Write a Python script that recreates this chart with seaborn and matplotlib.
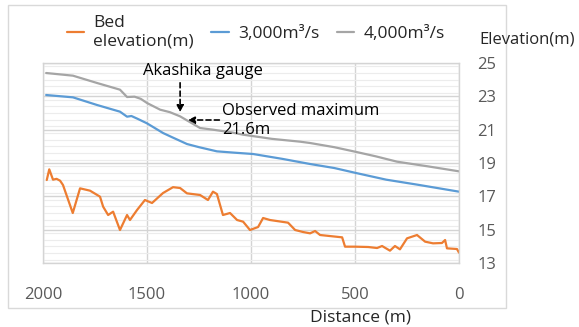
import numpy as np
import pandas as pd
import matplotlib
matplotlib.use('Agg')
import matplotlib.pyplot as plt
from matplotlib.lines import Line2D
from matplotlib.patches import Rectangle
from matplotlib.ticker import MultipleLocator
import seaborn as sns

# water surface profile, 4,000 m3/s (distance m, elevation m)
dist_4000 = [1985, 1856, 1740, 1630, 1596, 1560, 1530, 1500, 1437, 1390, 1341,
             1300, 1245, 1183, 1100, 1038, 900, 764, 716, 600, 500, 400, 298, 150, 0]
elev_4000 = [24.40, 24.24, 23.80, 23.40, 22.96, 22.98, 22.85, 22.60, 22.20, 22.05, 21.80,
             21.50, 21.10, 21.00, 20.85, 20.70, 20.45, 20.28, 20.20, 19.95, 19.68, 19.40, 19.08, 18.80, 18.50]

# water surface profile, 3,000 m3/s
dist_3000 = [1985, 1856, 1740, 1630, 1596, 1575, 1545, 1500, 1423, 1380, 1308,
             1250, 1164, 1080, 990, 850, 716, 600, 495, 350, 200, 0]
elev_3000 = [23.08, 22.94, 22.48, 22.08, 21.78, 21.82, 21.65, 21.38, 20.80, 20.55, 20.14,
             19.95, 19.70, 19.62, 19.54, 19.25, 18.94, 18.70, 18.40, 18.00, 17.70, 17.28]

# bed elevation
dist_bed = [1982, 1970, 1952, 1935, 1918, 1904, 1857, 1822, 1774, 1726, 1711, 1687,
            1663, 1630, 1596, 1582, 1548, 1510, 1476, 1423, 1375, 1341, 1308, 1245,
            1207, 1183, 1164, 1135, 1101, 1067, 1038, 1005, 966, 942, 909, 822, 788,
            750, 716, 692, 668, 562, 548, 500, 437, 394, 370, 332, 308, 284, 250, 202,
            163, 125, 82, 67, 58, 10, 0]
elev_bed = [17.98, 18.62, 18.00, 18.05, 17.94, 17.68, 16.00, 17.48, 17.34, 16.98, 16.38, 15.88,
            16.08, 14.98, 15.88, 15.58, 16.18, 16.78, 16.60, 17.20, 17.55, 17.50, 17.18, 17.08,
            16.78, 17.28, 17.14, 15.88, 16.00, 15.58, 15.48, 14.98, 15.16, 15.70, 15.58, 15.42, 14.98,
            14.86, 14.78, 14.92, 14.68, 14.54, 13.98, 13.98, 13.96, 13.90, 14.02, 13.74, 14.02, 13.82,
            14.48, 14.68, 14.28, 14.18, 14.20, 14.38, 13.88, 13.84, 13.62]

x_ticks = [2000, 1500, 1000, 500, 0]
y_ticks = [13, 15, 17, 19, 21, 23, 25]

series_labels = ['Bed\nelevation(m)', '3,000m³/s', '4,000m³/s']
series_colors = ['#ED7D31', '#5B9BD5', '#A5A5A5']

df = pd.concat([
    pd.DataFrame({'Distance': dist_bed, 'Elevation': elev_bed, 'Series': series_labels[0]}),
    pd.DataFrame({'Distance': dist_3000, 'Elevation': elev_3000, 'Series': series_labels[1]}),
    pd.DataFrame({'Distance': dist_4000, 'Elevation': elev_4000, 'Series': series_labels[2]}),
])

sns.set_style('white')
plt.rcParams['font.family'] = ['Open Sans', 'DejaVu Sans']

fig = plt.figure(figsize=(5.79, 3.27), dpi=100)
ax = fig.add_axes([0.0743, 0.1957, 0.7185, 0.6116])

sns.lineplot(data=df, x='Distance', y='Elevation', hue='Series', sort=False,
             palette=dict(zip(series_labels, series_colors)), linewidth=1.6,
             legend=False, ax=ax)

ax.set_xlim(2000, 0)
ax.set_ylim(13, 25)
ax.set_xticks(x_ticks)
ax.set_yticks(y_ticks)
ax.yaxis.set_minor_locator(MultipleLocator(0.4))
ax.yaxis.tick_right()
ax.tick_params(axis='both', which='both', length=0, labelsize=12, colors='#595959')
ax.tick_params(axis='x', pad=17)
ax.tick_params(axis='y', pad=13)
ax.set_xlabel('')
ax.set_ylabel('')
ax.grid(True, which='major', color='#d4d4d4', linewidth=1.0)
ax.grid(True, which='minor', axis='y', color='#ececec', linewidth=0.8)
ax.set_axisbelow(True)
for sp in ax.spines.values():
    sp.set_color('#d4d4d4')
    sp.set_linewidth(1.0)

# annotations
arrow_kw = dict(arrowstyle='-|>', linestyle=(0, (3, 2)), color='black', lw=1.2, mutation_scale=10)
ax.annotate('', xy=(1341, 21.88), xytext=(1341, 23.98), arrowprops=arrow_kw)
ax.annotate('', xy=(1317, 21.58), xytext=(1139, 21.58), arrowprops=arrow_kw)
ax.text(1519, 24.55, 'Akashika gauge', fontsize=12, color='black', ha='left', va='center')
ax.text(1139, 21.55, 'Observed maximum\n21.6m', fontsize=12, color='black',
        ha='left', va='center', linespacing=1.25)

# legend at top
handles = [Line2D([0], [0], color=c, lw=1.6) for c in series_colors]
leg = fig.legend(handles, series_labels, loc='center left', bbox_to_anchor=(0.088, 0.902),
                 ncol=3, frameon=False, fontsize=12.5, handlelength=1.0, handletextpad=0.55,
                 columnspacing=1.0, labelcolor='#262626')
for t in leg.get_texts():
    t.set_multialignment('left')

fig.text(479 / 579, 1 - 40 / 327, 'Elevation(m)', fontsize=12, color='#262626',
         ha='left', va='center')
fig.text(361 / 579, 1 - 318 / 327, 'Distance (m)', fontsize=12.5, color='#262626',
         ha='center', va='center')

# outer chart frame
fig.patches.append(Rectangle((8 / 579, 1 - 308 / 327), 498 / 579, 303 / 327,
                             transform=fig.transFigure, fill=False,
                             edgecolor='#d9d9d9', linewidth=1.0, zorder=0))

fig.savefig('out.png', dpi=100)
